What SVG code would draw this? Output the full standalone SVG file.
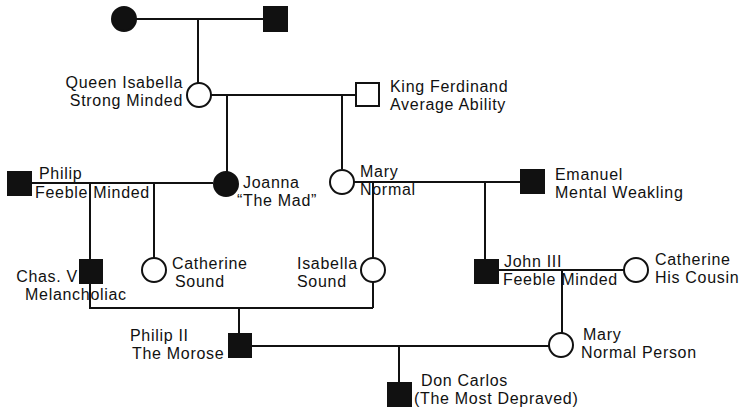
<svg xmlns="http://www.w3.org/2000/svg" width="746" height="409" viewBox="0 0 746 409">
<style>
  .ln{stroke:#111;stroke-width:2;fill:none}
  .f{fill:#111;stroke:#111;stroke-width:2}
  .o{fill:#fff;stroke:#111;stroke-width:2}
  text{font-family:"Liberation Sans",Arial,sans-serif;font-size:16px;fill:#111;letter-spacing:0.7px}
  .r{text-anchor:end}
</style>
<rect width="746" height="409" fill="#fff"/>
<g id="connectors" class="ln">
  <path d="M136 19H263"/>
  <path d="M198 19V83"/>
  <path d="M211 95H355"/>
  <path d="M227 95V172"/>
  <path d="M342 95V169"/>
  <path d="M32 183H213"/>
  <path d="M90 183V308H373"/>
  <path d="M154 183V258"/>
  <path d="M354 182H520"/>
  <path d="M373 182V258"/>
  <path d="M373 282V308"/>
  <path d="M485 182V259"/>
  <path d="M498 270H624"/>
  <path d="M562 270V333"/>
  <path d="M239 308V333"/>
  <path d="M252 346H549"/>
  <path d="M399 346V382"/>
</g>
<g id="grandmother"><circle class="f" cx="124" cy="19" r="12"/></g>
<g id="grandfather"><rect class="f" x="264" y="7" width="23" height="24"/></g>
<g id="queen-isabella">
  <circle class="o" cx="199" cy="95" r="12"/>
  <text class="r" x="183" y="88">Queen Isabella</text>
  <text class="r" x="183" y="106">Strong Minded</text>
</g>
<g id="king-ferdinand">
  <rect class="o" x="356" y="83" width="23" height="23"/>
  <text x="390" y="92">King Ferdinand</text>
  <text x="390" y="110">Average Ability</text>
</g>
<g id="philip">
  <rect class="f" x="8" y="172" width="23" height="23"/>
  <text x="39" y="179">Philip</text>
  <text x="35" y="198">Feeble Minded</text>
</g>
<g id="joanna">
  <circle class="f" cx="226" cy="184" r="12"/>
  <text x="243" y="188">Joanna</text>
  <text x="237" y="206">“The Mad”</text>
</g>
<g id="mary">
  <circle class="o" cx="342" cy="182" r="12"/>
  <text x="360" y="177">Mary</text>
  <text x="360" y="195">Normal</text>
</g>
<g id="emanuel">
  <rect class="f" x="521" y="170" width="23" height="23"/>
  <text x="555" y="180">Emanuel</text>
  <text x="555" y="198">Mental Weakling</text>
</g>
<g id="chas-v">
  <rect class="f" x="80" y="260" width="22" height="23"/>
  <text class="r" x="78" y="282">Chas. V</text>
  <text x="25" y="300">Melancholiac</text>
</g>
<g id="catherine-sound">
  <circle class="o" cx="154" cy="270" r="12"/>
  <text x="172" y="269">Catherine</text>
  <text x="175" y="287">Sound</text>
</g>
<g id="isabella">
  <circle class="o" cx="373" cy="270" r="12"/>
  <text x="297" y="269">Isabella</text>
  <text x="297" y="287">Sound</text>
</g>
<g id="john-iii">
  <rect class="f" x="475" y="260" width="23" height="23"/>
  <text x="504" y="267">John III</text>
  <text x="503" y="285">Feeble Minded</text>
</g>
<g id="catherine-cousin">
  <circle class="o" cx="636" cy="270" r="12"/>
  <text x="655" y="265">Catherine</text>
  <text x="655" y="283">His Cousin</text>
</g>
<g id="philip-ii">
  <rect class="f" x="229" y="334" width="22" height="23"/>
  <text x="130" y="341">Philip II</text>
  <text x="132" y="359">The Morose</text>
</g>
<g id="mary-normal-person">
  <circle class="o" cx="561" cy="345" r="12"/>
  <text x="583" y="340">Mary</text>
  <text x="581" y="358">Normal Person</text>
</g>
<g id="don-carlos">
  <rect class="f" x="388" y="383" width="23" height="23"/>
  <text x="421" y="386">Don Carlos</text>
  <text x="414" y="404">(The Most Depraved)</text>
</g>
</svg>
